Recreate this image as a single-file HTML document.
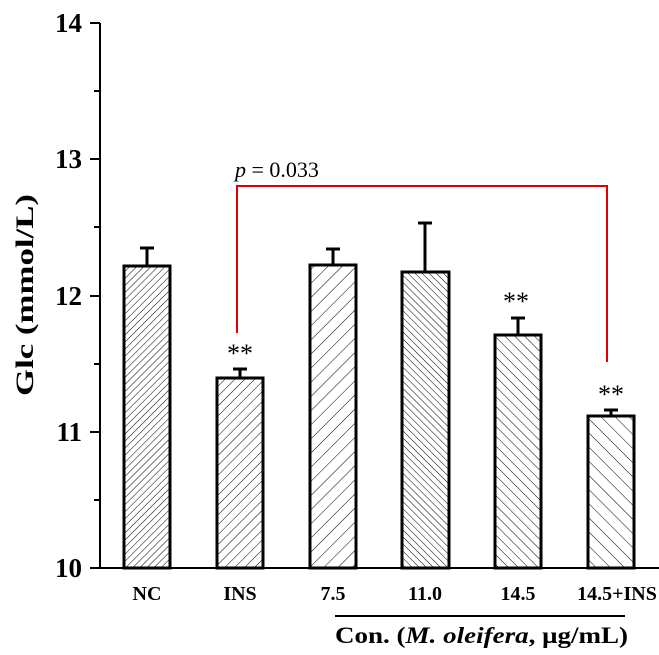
<!DOCTYPE html>
<html><head><style>body{margin:0;background:#fff}svg{display:block}</style></head><body>
<svg width="659" height="655" xmlns="http://www.w3.org/2000/svg" font-family="Liberation Serif, serif">
<defs>
<pattern id="f5" width="5" height="5" patternUnits="userSpaceOnUse" patternTransform="rotate(45)"><line x1="0" y1="0" x2="0" y2="5" stroke="#000" stroke-width="1"/></pattern>
<pattern id="f7" width="7" height="7" patternUnits="userSpaceOnUse" patternTransform="rotate(45)"><line x1="0" y1="0" x2="0" y2="7" stroke="#000" stroke-width="1"/></pattern>
<pattern id="f10" width="10" height="10" patternUnits="userSpaceOnUse" patternTransform="rotate(45)"><line x1="0" y1="0" x2="0" y2="10" stroke="#000" stroke-width="1"/></pattern>
<pattern id="b5" width="5" height="5" patternUnits="userSpaceOnUse" patternTransform="rotate(-45)"><line x1="0" y1="0" x2="0" y2="5" stroke="#000" stroke-width="1"/></pattern>
<pattern id="b7" width="7" height="7" patternUnits="userSpaceOnUse" patternTransform="rotate(-45)"><line x1="0" y1="0" x2="0" y2="7" stroke="#000" stroke-width="1"/></pattern>
<pattern id="b10" width="10" height="10" patternUnits="userSpaceOnUse" patternTransform="rotate(-45)"><line x1="0" y1="0" x2="0" y2="10" stroke="#000" stroke-width="1"/></pattern>
</defs>
<g stroke="#000" stroke-width="2">
<line x1="100" y1="23" x2="100" y2="569"/>
<line x1="99" y1="568" x2="659" y2="568"/>
<line x1="90" y1="23" x2="100" y2="23"/><line x1="90" y1="159" x2="100" y2="159"/><line x1="90" y1="296" x2="100" y2="296"/><line x1="90" y1="432" x2="100" y2="432"/><line x1="90" y1="568" x2="100" y2="568"/>
<line x1="94" y1="91" x2="100" y2="91"/><line x1="94" y1="227" x2="100" y2="227"/><line x1="94" y1="364" x2="100" y2="364"/><line x1="94" y1="500" x2="100" y2="500"/>
</g>
<g font-size="27" font-weight="bold" text-anchor="end">
<text x="82" y="32">14</text><text x="82" y="168">13</text><text x="82" y="305">12</text><text x="82" y="441">11</text><text x="82" y="577">10</text>
</g>
<text transform="translate(33,396) rotate(-90)" font-size="25" font-weight="bold" textLength="202" lengthAdjust="spacingAndGlyphs">Glc (mmol/L)</text>
<g stroke="#000" stroke-width="3">
<line x1="147" y1="266" x2="147" y2="248"/><line x1="140" y1="248" x2="154" y2="248"/>
<line x1="240" y1="378" x2="240" y2="369"/><line x1="233" y1="369" x2="247" y2="369"/>
<line x1="333" y1="265" x2="333" y2="249"/><line x1="326" y1="249" x2="340" y2="249"/>
<line x1="425" y1="272" x2="425" y2="223"/><line x1="418" y1="223" x2="432" y2="223"/>
<line x1="518" y1="335" x2="518" y2="318"/><line x1="511" y1="318" x2="525" y2="318"/>
<line x1="611" y1="416" x2="611" y2="410"/><line x1="604" y1="410" x2="618" y2="410"/>
<rect x="124" y="266" width="46" height="302" fill="url(#f5)"/>
<rect x="217" y="378" width="46" height="190" fill="url(#f7)"/>
<rect x="310" y="265" width="46" height="303" fill="url(#f10)"/>
<rect x="402" y="272" width="47" height="296" fill="url(#b5)"/>
<rect x="495" y="335" width="46" height="233" fill="url(#b7)"/>
<rect x="588" y="416" width="46" height="152" fill="url(#b10)"/>
</g>
<polyline points="237,333 237,186 607,186 607,362" fill="none" stroke="#d00" stroke-width="2"/>
<text x="235" y="177" font-size="22"><tspan font-style="italic">p</tspan> = 0.033</text>
<g font-size="26" text-anchor="middle">
<text x="240" y="362">**</text><text x="516" y="310">**</text><text x="611" y="403">**</text>
</g>
<g font-size="20" font-weight="bold" text-anchor="middle">
<text x="147" y="600">NC</text><text x="240" y="600">INS</text><text x="333" y="600">7.5</text><text x="425" y="600">11.0</text><text x="518" y="600">14.5</text><text x="617" y="600">14.5+INS</text>
</g>
<line x1="335" y1="616" x2="625" y2="616" stroke="#000" stroke-width="2"/>
<text x="335" y="643" font-size="23" font-weight="bold" textLength="293" lengthAdjust="spacingAndGlyphs">Con. (<tspan font-style="italic">M. oleifera</tspan>, μg/mL)</text>
</svg>
</body></html>
